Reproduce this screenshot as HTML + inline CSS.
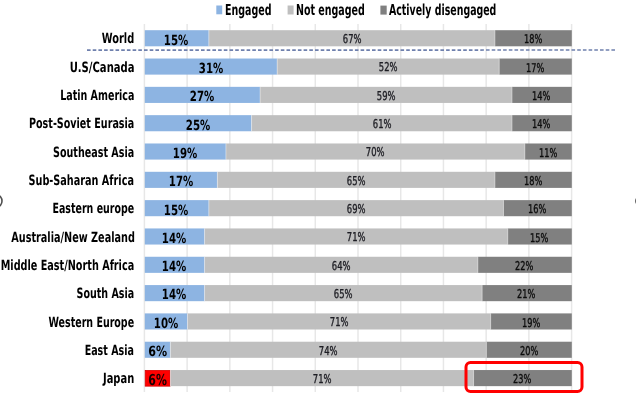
<!DOCTYPE html>
<html><head><meta charset="utf-8"><title>Employee engagement by region</title>
<style>
*{margin:0;padding:0;box-sizing:border-box}
html,body{width:636px;height:413px;overflow:hidden;background:#fff}
body{position:relative;text-rendering:geometricPrecision;font-family:"DejaVu Sans Condensed","DejaVu Sans","Liberation Sans",sans-serif;color:#000}
svg{position:absolute;left:0;top:0}
.lab{position:absolute;right:501.6px;height:16px;line-height:16px;font-weight:bold;font-size:14.2px;white-space:nowrap;transform-origin:100% 50%}
.v{position:absolute;width:200px;height:16px;line-height:16px;text-align:center;white-space:nowrap}
.v span{display:inline-block}
.eb{font-weight:bold;font-size:14.0px}
.eb span{transform:scaleX(0.81)}
.nr{font-size:12.2px;color:#1e1e24;-webkit-text-stroke:0.35px #1e1e24}
.nr span{transform:scaleX(0.7658274164134428)}
.dr{font-size:12.1px;color:#0c0c0c;-webkit-text-stroke:0.35px #0c0c0c}
.dr span{transform:scaleX(0.7538578512396695)}
.lg{position:absolute;top:0.1px;height:20px;line-height:20px;font-weight:bold;font-size:15.2px;white-space:nowrap;transform-origin:0 50%}
</style></head><body>
<svg width="636" height="413" viewBox="0 0 636 413">
<path d="M144.40 24V392 M187.12 24V392 M229.84 24V392 M272.56 24V392 M315.28 24V392 M358.00 24V392 M400.72 24V392 M443.44 24V392 M486.16 24V392 M528.88 24V392 M571.60 24V392" stroke="#e7e7e7" stroke-width="1.5" fill="none"/>
<rect x="144.80" y="30.20" width="64.05" height="16.1" fill="#8db4e2"/>
<rect x="208.85" y="30.20" width="286.09" height="16.1" fill="#bfbfbf"/>
<rect x="494.94" y="30.20" width="76.86" height="16.1" fill="#808080"/>
<rect x="144.80" y="58.52" width="132.37" height="16.1" fill="#8db4e2"/>
<rect x="277.17" y="58.52" width="222.04" height="16.1" fill="#bfbfbf"/>
<rect x="499.21" y="58.52" width="72.59" height="16.1" fill="#808080"/>
<rect x="144.80" y="86.84" width="115.29" height="16.1" fill="#8db4e2"/>
<rect x="260.09" y="86.84" width="251.93" height="16.1" fill="#bfbfbf"/>
<rect x="512.02" y="86.84" width="59.78" height="16.1" fill="#808080"/>
<rect x="144.80" y="115.16" width="106.75" height="16.1" fill="#8db4e2"/>
<rect x="251.55" y="115.16" width="260.47" height="16.1" fill="#bfbfbf"/>
<rect x="512.02" y="115.16" width="59.78" height="16.1" fill="#808080"/>
<rect x="144.80" y="143.48" width="81.13" height="16.1" fill="#8db4e2"/>
<rect x="225.93" y="143.48" width="298.90" height="16.1" fill="#bfbfbf"/>
<rect x="524.83" y="143.48" width="46.97" height="16.1" fill="#808080"/>
<rect x="144.80" y="171.80" width="72.59" height="16.1" fill="#8db4e2"/>
<rect x="217.39" y="171.80" width="277.55" height="16.1" fill="#bfbfbf"/>
<rect x="494.94" y="171.80" width="76.86" height="16.1" fill="#808080"/>
<rect x="144.80" y="200.12" width="64.05" height="16.1" fill="#8db4e2"/>
<rect x="208.85" y="200.12" width="294.63" height="16.1" fill="#bfbfbf"/>
<rect x="503.48" y="200.12" width="68.32" height="16.1" fill="#808080"/>
<rect x="144.80" y="228.44" width="59.78" height="16.1" fill="#8db4e2"/>
<rect x="204.58" y="228.44" width="303.17" height="16.1" fill="#bfbfbf"/>
<rect x="507.75" y="228.44" width="64.05" height="16.1" fill="#808080"/>
<rect x="144.80" y="256.76" width="59.78" height="16.1" fill="#8db4e2"/>
<rect x="204.58" y="256.76" width="273.28" height="16.1" fill="#bfbfbf"/>
<rect x="477.86" y="256.76" width="93.94" height="16.1" fill="#808080"/>
<rect x="144.80" y="285.08" width="59.78" height="16.1" fill="#8db4e2"/>
<rect x="204.58" y="285.08" width="277.55" height="16.1" fill="#bfbfbf"/>
<rect x="482.13" y="285.08" width="89.67" height="16.1" fill="#808080"/>
<rect x="144.80" y="313.40" width="42.70" height="16.1" fill="#8db4e2"/>
<rect x="187.50" y="313.40" width="303.17" height="16.1" fill="#bfbfbf"/>
<rect x="490.67" y="313.40" width="81.13" height="16.1" fill="#808080"/>
<rect x="144.80" y="341.72" width="25.62" height="16.1" fill="#8db4e2"/>
<rect x="170.42" y="341.72" width="315.98" height="16.1" fill="#bfbfbf"/>
<rect x="486.40" y="341.72" width="85.40" height="16.1" fill="#808080"/>
<rect x="145.20" y="370.44" width="24.82" height="15.700000000000001" fill="#ff0000" stroke="#d40000" stroke-width="0.8"/>
<rect x="170.42" y="370.04" width="303.17" height="16.1" fill="#bfbfbf"/>
<rect x="473.59" y="370.04" width="98.21" height="16.1" fill="#808080"/>
<path d="M208.85 30.20v16.1M494.94 30.20v16.1M277.17 58.52v16.1M499.21 58.52v16.1M260.09 86.84v16.1M512.02 86.84v16.1M251.55 115.16v16.1M512.02 115.16v16.1M225.93 143.48v16.1M524.83 143.48v16.1M217.39 171.80v16.1M494.94 171.80v16.1M208.85 200.12v16.1M503.48 200.12v16.1M204.58 228.44v16.1M507.75 228.44v16.1M204.58 256.76v16.1M477.86 256.76v16.1M204.58 285.08v16.1M482.13 285.08v16.1M187.50 313.40v16.1M490.67 313.40v16.1M170.42 341.72v16.1M486.40 341.72v16.1M170.42 370.04v16.1M473.59 370.04v16.1" stroke="#ffffff" stroke-opacity="0.55" stroke-width="0.7" fill="none"/>
<rect x="216.3" y="5.5" width="5.9" height="8.8" fill="#8db4e2"/>
<rect x="287.6" y="5.5" width="6" height="9" fill="#bfbfbf"/>
<rect x="380.4" y="5.6" width="6.3" height="9" fill="#808080"/>
<line x1="87.0" y1="50.1" x2="615" y2="50" stroke="#6f80ad" stroke-width="1.7" stroke-dasharray="3.6 2.1"/>
<rect x="466" y="362.5" width="116" height="29" rx="4.5" ry="4.5" fill="none" stroke="#ff0000" stroke-width="3"/>
<ellipse cx="-2.6" cy="201" rx="4.6" ry="5.6" fill="none" stroke="#505050" stroke-width="1.6"/>
<ellipse cx="641" cy="201" rx="5.2" ry="4.6" fill="none" stroke="#606060" stroke-width="1.6"/>
</svg>
<div class="lg" style="left:225.20px;transform:translateY(0.3px) scaleX(0.6947)">Engaged</div>
<div class="lg" style="left:296.20px;transform:translateY(0.3px) scaleX(0.6958)">Not engaged</div>
<div class="lg" style="left:388.60px;transform:translateY(0.3px) scaleX(0.6889)">Actively disengaged</div>
<div class="lab" style="top:31.30px;transform:scaleX(0.7689)">World</div>
<div class="v eb" style="left:76.53px;top:32.60px"><span style="transform:scaleX(0.810)">15%</span></div>
<div class="v nr" style="left:252.09px;top:31.00px"><span>67%</span></div>
<div class="v dr" style="left:432.97px;top:31.40px"><span>18%</span></div>
<div class="lab" style="top:59.62px;transform:scaleX(0.7859)">U.S/Canada</div>
<div class="v eb" style="left:110.69px;top:60.92px"><span style="transform:scaleX(0.810)">31%</span></div>
<div class="v nr" style="left:288.39px;top:59.32px"><span>52%</span></div>
<div class="v dr" style="left:435.11px;top:59.72px"><span>17%</span></div>
<div class="lab" style="top:87.94px;transform:scaleX(0.7471)">Latin America</div>
<div class="v eb" style="left:102.15px;top:89.24px"><span style="transform:scaleX(0.810)">27%</span></div>
<div class="v nr" style="left:286.25px;top:87.64px"><span>59%</span></div>
<div class="v dr" style="left:441.51px;top:88.04px"><span>14%</span></div>
<div class="lab" style="top:116.26px;transform:scaleX(0.7505)">Post-Soviet Eurasia</div>
<div class="v eb" style="left:97.88px;top:117.56px"><span style="transform:scaleX(0.810)">25%</span></div>
<div class="v nr" style="left:281.98px;top:115.96px"><span>61%</span></div>
<div class="v dr" style="left:441.51px;top:116.36px"><span>14%</span></div>
<div class="lab" style="top:144.58px;transform:scaleX(0.7496)">Southeast Asia</div>
<div class="v eb" style="left:85.06px;top:145.88px"><span style="transform:scaleX(0.810)">19%</span></div>
<div class="v nr" style="left:275.58px;top:144.28px"><span>70%</span></div>
<div class="v dr" style="left:447.91px;top:144.68px"><span>11%</span></div>
<div class="lab" style="top:172.90px;transform:scaleX(0.7588)">Sub-Saharan Africa</div>
<div class="v eb" style="left:80.80px;top:174.20px"><span style="transform:scaleX(0.810)">17%</span></div>
<div class="v nr" style="left:256.37px;top:172.60px"><span>65%</span></div>
<div class="v dr" style="left:432.97px;top:173.00px"><span>18%</span></div>
<div class="lab" style="top:201.22px;transform:scaleX(0.7411)">Eastern europe</div>
<div class="v eb" style="left:76.53px;top:202.52px"><span style="transform:scaleX(0.810)">15%</span></div>
<div class="v nr" style="left:256.37px;top:200.92px"><span>69%</span></div>
<div class="v dr" style="left:437.24px;top:201.32px"><span>16%</span></div>
<div class="lab" style="top:229.54px;transform:scaleX(0.7590)">Australia/New Zealand</div>
<div class="v eb" style="left:74.39px;top:230.84px"><span style="transform:scaleX(0.810)">14%</span></div>
<div class="v nr" style="left:256.37px;top:229.24px"><span>71%</span></div>
<div class="v dr" style="left:439.38px;top:229.64px"><span>15%</span></div>
<div class="lab" style="top:257.86px;transform:scaleX(0.7575)">Middle East/North Africa</div>
<div class="v eb" style="left:74.39px;top:259.16px"><span style="transform:scaleX(0.810)">14%</span></div>
<div class="v nr" style="left:241.42px;top:257.56px"><span>64%</span></div>
<div class="v dr" style="left:424.43px;top:257.96px"><span>22%</span></div>
<div class="lab" style="top:286.18px;transform:scaleX(0.7467)">South Asia</div>
<div class="v eb" style="left:74.39px;top:287.48px"><span style="transform:scaleX(0.810)">14%</span></div>
<div class="v nr" style="left:243.56px;top:285.88px"><span>65%</span></div>
<div class="v dr" style="left:426.57px;top:286.28px"><span>21%</span></div>
<div class="lab" style="top:314.50px;transform:scaleX(0.7439)">Western Europe</div>
<div class="v eb" style="left:65.85px;top:315.80px"><span style="transform:scaleX(0.810)">10%</span></div>
<div class="v nr" style="left:239.29px;top:314.20px"><span>71%</span></div>
<div class="v dr" style="left:430.84px;top:314.60px"><span>19%</span></div>
<div class="lab" style="top:342.82px;transform:scaleX(0.7476)">East Asia</div>
<div class="v eb" style="left:57.31px;top:344.12px"><span style="transform:scaleX(0.880)">6%</span></div>
<div class="v nr" style="left:228.61px;top:342.52px"><span>74%</span></div>
<div class="v dr" style="left:428.70px;top:342.92px"><span>20%</span></div>
<div class="lab" style="top:371.14px;transform:scaleX(0.7759)">Japan</div>
<div class="v eb" style="left:57.31px;top:372.24px;font-size:15.2px;color:#1a0000"><span style="transform:scaleX(0.800)">6%</span></div>
<div class="v nr" style="left:222.20px;top:370.84px"><span>71%</span></div>
<div class="v dr" style="left:422.30px;top:371.24px"><span>23%</span></div>
</body></html>
